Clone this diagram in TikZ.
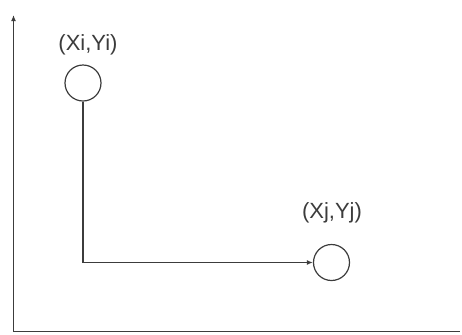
\documentclass[tikz,border=0pt]{standalone}
\usepackage{fontspec}
\setmainfont{Liberation Sans}
\usetikzlibrary{arrows.meta, positioning}
\definecolor{LineGray}{RGB}{60, 60, 60}

\tikzset{
  point/.style={circle, draw=LineGray, line width=0.6pt, minimum size=18pt, inner sep=0pt},
  coordlabel/.style={font=\fontsize{11}{13}\selectfont, text=LineGray},
  axis/.style={draw=LineGray, line width=0.7pt},
  link/.style={draw=LineGray, line width=0.6pt, -{Latex[length=3pt, width=2.5pt]}}
}

\begin{document}
\begin{tikzpicture}[x=0.5pt, y=-0.5pt]
    \useasboundingbox (0,0) rectangle (462,334);
    % axes
    \coordinate (origin) at (13.5,331.5);
    \coordinate (ytop) at (13.5,15);
    \coordinate (xend) at (460,331.5);
    \draw[axis, -{Latex[length=3pt, width=2.5pt]}] (origin) -- (ytop);
    \draw[axis] (origin) -- (xend);
    % points
    \node[point] (pi) at (83,83) {};
    \node[coordlabel] (labeli) at (88,45) {(Xi,Yi)};
    \node[point] (pj) at (331.5,262.5) {};
    \node[coordlabel] (labelj) at (332,213) {(Xj,Yj)};
    % path from i to j
    \draw[link] (pi.south) |- (pj.west);
  \end{tikzpicture}
\end{document}
